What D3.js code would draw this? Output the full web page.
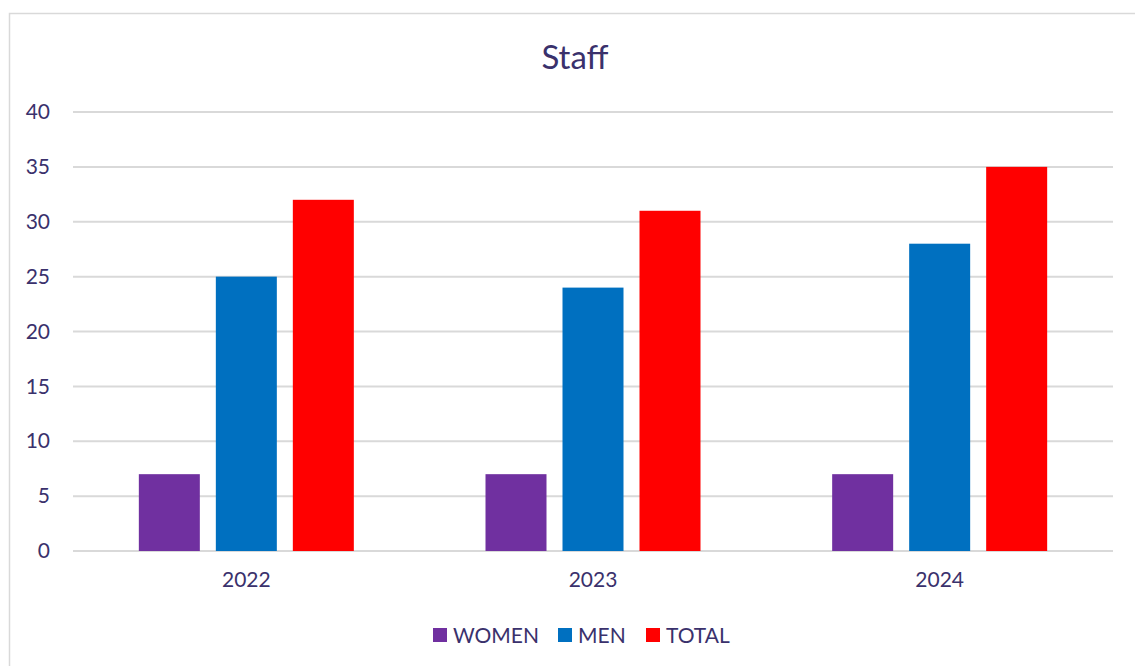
<!DOCTYPE html>
<html>
<head>
<meta charset="utf-8">
<script src="https://cdn.jsdelivr.net/npm/d3@7"></script>
<style>
  body { margin: 0; background: #fff; }
  text { font-family: Lato, "Open Sans", sans-serif; fill: #3a316c; }
</style>
</head>
<body>
<script>
let years = ["2022", "2023", "2024"];
let series = ["WOMEN", "MEN", "TOTAL"];
let women = [7, 7, 7];
let men = [25, 24, 28];
let total = [32, 31, 35];
let yTicks = [0, 5, 10, 15, 20, 25, 30, 35, 40];

let colors = ["#7030a0", "#0070c0", "#ff0000"];

let W = 1135, H = 666;
let plotLeft = 73, plotRight = 1113, plotTop = 112, plotBottom = 551;

let svg = d3.select("body").append("svg")
  .attr("width", W)
  .attr("height", H);

// chart frame
svg.append("rect")
  .attr("x", 9.5).attr("y", 13.5)
  .attr("width", 1200).attr("height", 700)
  .attr("fill", "#fff")
  .attr("stroke", "#d9d9d9")
  .attr("stroke-width", 1.5);

let x0 = d3.scaleBand().domain(years).range([plotLeft, plotRight]);
let groupW = 231;
let x1 = d3.scaleBand().domain(series)
  .range([(x0.bandwidth() - groupW) / 2, (x0.bandwidth() + groupW) / 2])
  .paddingInner(16 / 77)
  .paddingOuter(8 / 77);
let y = d3.scaleLinear().domain([0, 40]).range([plotBottom, plotTop]);
let z = d3.scaleOrdinal().domain(series).range(colors);

// gridlines
svg.append("g")
  .selectAll("line")
  .data(yTicks)
  .enter().append("line")
  .attr("x1", plotLeft).attr("x2", plotRight)
  .attr("y1", d => y(d)).attr("y2", d => y(d))
  .attr("stroke", "#d9d9d9")
  .attr("stroke-width", 2);

// y axis labels
let yAxis = svg.append("g")
  .attr("transform", "translate(" + (plotLeft - 23) + ",0)")
  .call(d3.axisLeft(y).tickValues(yTicks).tickSize(0).tickPadding(0));
yAxis.select(".domain").remove();
yAxis.selectAll("text")
  .style("font-size", "21px")
  .style("font-family", "Lato, sans-serif")
  .attr("fill", "#3a316c");

// x axis labels
let xAxis = svg.append("g")
  .attr("transform", "translate(0," + plotBottom + ")")
  .call(d3.axisBottom(x0).tickSize(0).tickPadding(21));
xAxis.select(".domain").remove();
xAxis.selectAll("text")
  .style("font-size", "21px")
  .style("font-family", "Lato, sans-serif")
  .attr("fill", "#3a316c");

let rows = years.map((yr, i) => ({ year: yr, WOMEN: women[i], MEN: men[i], TOTAL: total[i] }));

svg.append("g")
  .selectAll("g")
  .data(rows)
  .enter().append("g")
  .attr("transform", d => "translate(" + x0(d.year) + ",0)")
  .selectAll("rect")
  .data(d => series.map(s => ({ key: s, value: d[s] })))
  .enter().append("rect")
  .attr("x", d => x1(d.key))
  .attr("y", d => y(d.value))
  .attr("width", x1.bandwidth())
  .attr("height", d => y(0) - y(d.value))
  .attr("fill", d => z(d.key));

// title
svg.append("text")
  .attr("x", 575).attr("y", 69)
  .attr("text-anchor", "middle")
  .style("font-size", "33px")
  .text("Staff");

// legend
let legendX = [433, 558, 646];
let legend = svg.append("g")
  .selectAll("g")
  .data(series)
  .enter().append("g")
  .attr("transform", (d, i) => "translate(" + legendX[i] + ",628)");
legend.append("rect")
  .attr("width", 14).attr("height", 14)
  .attr("fill", d => z(d));
legend.append("text")
  .attr("x", 20).attr("y", 15)
  .style("font-size", "21px")
  .text(d => d);
</script>
</body>
</html>
